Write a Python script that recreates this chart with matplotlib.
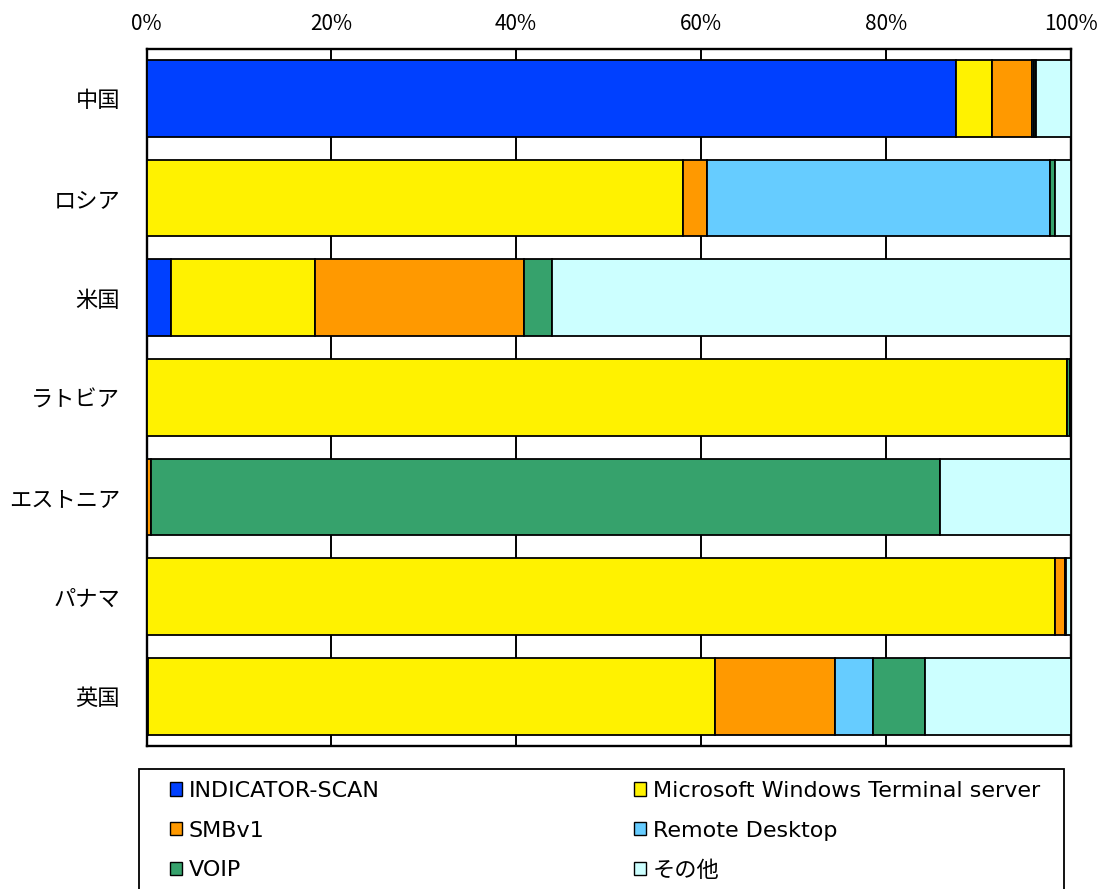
import matplotlib
matplotlib.use("Agg")
import matplotlib.pyplot as plt
from matplotlib.patches import Patch, Rectangle
import numpy as np

plt.rcParams['font.family'] = ['Noto Sans CJK JP', 'DejaVu Sans']

countries = ['中国', 'ロシア', '米国', 'ラトビア', 'エストニア', 'パナマ', '英国']
series = ['INDICATOR-SCAN', 'Microsoft Windows Terminal server', 'SMBv1',
          'Remote Desktop', 'VOIP', 'その他']
colors = ['#0040FF', '#FFF200', '#FF9900', '#66CCFF', '#36A26C', '#CCFFFF']

# share (%) per country
indicator = [87.6, 0.0, 2.6, 0.0, 0.0, 0.0, 0.2]
ms_terminal = [3.9, 58.0, 15.6, 99.6, 0.0, 98.3, 61.3]
smbv1 = [4.3, 2.6, 22.7, 0.0, 0.5, 1.1, 13.0]
remote_desktop = [0.2, 37.2, 0.0, 0.0, 0.0, 0.1, 4.1]
voip = [0.2, 0.5, 3.0, 0.3, 85.4, 0.0, 5.6]
other = [3.8, 1.7, 56.1, 0.1, 14.1, 0.5, 15.8]
values = [indicator, ms_terminal, smbv1, remote_desktop, voip, other]

tick_vals = [0, 20, 40, 60, 80, 100]
tick_labels = ['0%', '20%', '40%', '60%', '80%', '100%']

fig = plt.figure(figsize=(11.09, 8.89), dpi=100)
ax = fig.add_axes([146.5 / 1109, 1 - 746 / 889, (1070.7 - 146.5) / 1109, (746 - 48.5) / 889])

y = np.arange(len(countries))
left = np.zeros(len(countries))
for name, vals, col in zip(series, values, colors):
    vals = np.array(vals)
    lw = np.where(vals > 0, 1.3, 0.0)
    ax.barh(y, vals, left=left, height=0.77, color=col, edgecolor='black',
            linewidth=lw, label=name, zorder=3)
    left += vals

ax.set_xlim(0, 100)
ax.set_ylim(len(countries) - 0.5, -0.5)
ax.set_xticks(tick_vals)
ax.set_xticklabels(tick_labels, fontsize=15)
ax.xaxis.tick_top()
ax.set_yticks(y)
ax.set_yticklabels(countries, fontsize=16)
ax.tick_params(axis='x', length=0, pad=10)
ax.tick_params(axis='y', length=0, pad=19)
ax.grid(axis='x', color='black', linewidth=1.4, zorder=0)
ax.set_axisbelow(True)
for sp in ax.spines.values():
    sp.set_linewidth(1.7)
    sp.set_color('black')

# legend frame (cut off at bottom of the picture, like the original)
fig.patches.append(Rectangle((139 / 1109, -0.05), (1064 - 139) / 1109, 1 - 769 / 889 + 0.05,
                             transform=fig.transFigure, fill=False, edgecolor='black',
                             linewidth=1.3))

handles = [Patch(facecolor=c, edgecolor='black', linewidth=1.0) for c in colors]
kw = dict(loc='upper left', frameon=False, handlelength=0.55, handleheight=0.55,
          handletextpad=0.3, labelspacing=0.88, borderpad=0, borderaxespad=0,
          bbox_transform=fig.transFigure,
          prop={'family': ['DejaVu Sans', 'Noto Sans CJK JP'], 'size': 16})
fig.legend(handles[0::2], series[0::2], bbox_to_anchor=(170 / 1109, 1 - 781 / 889), **kw)
fig.legend(handles[1::2], series[1::2], bbox_to_anchor=(634 / 1109, 1 - 781 / 889), **kw)

fig.savefig('out.png', dpi=100)
